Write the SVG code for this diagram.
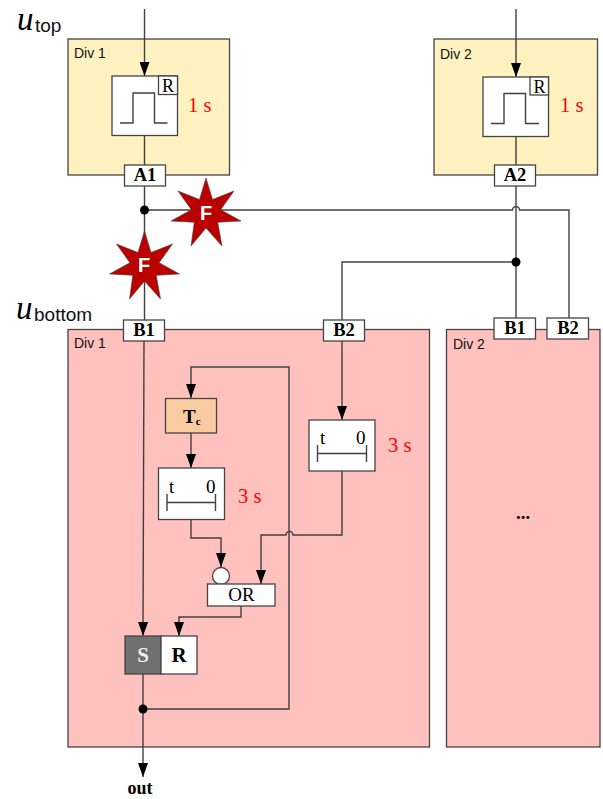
<svg xmlns="http://www.w3.org/2000/svg" width="603" height="799" viewBox="0 0 603 799">
<style>
.b{stroke:#444;stroke-width:1.3}
.y{fill:#fff2c0}.p{fill:#ffc1bd}.w{fill:#fff}
.c{fill:none;stroke:#404040;stroke-width:1.4}
.s{font-family:"Liberation Sans",Arial,sans-serif}
.t{font-family:"Liberation Serif","Times New Roman",serif;fill:#000}
.bd{font-weight:bold;font-size:18.500px;text-anchor:middle}
.r{fill:#f00;font-size:20.500px}
.d{font-size:14px;fill:#111}
.u{font-size:33px;font-style:italic}
.sub{font-size:19px;fill:#111}
.star{fill:#bb0000;stroke:#404040;stroke-width:.6}
.f{font-size:20px;font-weight:bold;fill:#fff;text-anchor:middle}
.m{font-size:19px}
</style>
<defs>
<marker id="a" markerUnits="userSpaceOnUse" markerWidth="14" markerHeight="10" refX="14" refY="5" orient="auto" viewBox="0 0 14 10"><path d="M0 0L14 5L0 10Z" fill="#000"/></marker>
<polygon id="st" points="0,-35 6.500,-13.500 28,-22 14.600,-3.300 35,8 11.700,9.300 16,33 0,15 -15,33 -11.700,9.300 -35,8 -14.600,-3.300 -28,-22 -6.500,-13.500" class="star"/>
</defs>
<rect id="bg" width="603" height="799" fill="#fff"/>
<g id="div1-top"><rect x="68" y="39" width="161.500" height="136" class="y b"/><text x="74" y="58" class="s d">Div 1</text></g>
<g id="div2-top"><rect x="434" y="39" width="163.500" height="136" class="y b"/><text x="440" y="59" class="s d">Div 2</text></g>
<g id="div1-bottom"><rect x="68" y="329.500" width="361.500" height="417.500" class="p b"/><text x="74" y="348" class="s d">Div 1</text></g>
<g id="div2-bottom"><rect x="446.500" y="329.500" width="153.500" height="417.500" class="p b"/><text x="453" y="349" class="s d">Div 2</text></g>
<g id="connectors">
<path d="M144.500 9V76" class="c" marker-end="url(#a)"/>
<path d="M516 9V77" class="c" marker-end="url(#a)"/>
<path d="M144.500 135V165M144.500 186V320" class="c"/>
<path d="M516 136V165M516 186V318" class="c"/>
<path d="M144.500 210H512.500A3.500 3.500 0 0 1 519.500 210H569V318" class="c"/>
<path d="M516 262H342V320" class="c"/>
<path d="M342 341V420" class="c" marker-end="url(#a)"/>
<path d="M144 341L143 636" class="c" marker-end="url(#a)"/>
<path d="M143 674V777" class="c" marker-end="url(#a)"/>
<path d="M143 709H289V367H191V398" class="c" marker-end="url(#a)"/>
<path d="M191 433V468" class="c" marker-end="url(#a)"/>
<path d="M191 519.500V538H221V567" class="c" marker-end="url(#a)"/>
<path d="M342 471V535H293A3.500 3.500 0 0 0 286 535H261V584" class="c" marker-end="url(#a)"/>
<path d="M241 606V617H179V636" class="c" marker-end="url(#a)"/>
<circle cx="144.500" cy="210" r="4.500" fill="#000"/>
<circle cx="516" cy="262" r="4.500" fill="#000"/>
<circle cx="143" cy="709" r="4.500" fill="#000"/>
</g>
<g id="pulse1"><rect x="112" y="76" width="65.500" height="59.500" class="w b"/><rect x="158.500" y="76" width="19" height="18.500" class="w b"/><text x="168" y="92" text-anchor="middle" class="t" font-size="18">R</text><path d="M120 123H133V93H154.500V123H167.500" class="c"/></g>
<g id="pulse2"><rect x="483" y="77" width="65.500" height="59.500" class="w b"/><rect x="530" y="77" width="18.500" height="18" class="w b"/><text x="539.500" y="93" text-anchor="middle" class="t" font-size="18">R</text><path d="M491 123.500H504V93.500H525.500V123.500H539" class="c"/></g>
<text x="188" y="112" class="t r">1 s</text>
<text x="560" y="112" class="t r">1 s</text>
<g id="A1"><rect x="124.500" y="165" width="41" height="21" class="w b"/><text x="145" y="181" class="t bd">A1</text></g>
<g id="A2"><rect x="494.500" y="165" width="41" height="21" class="w b"/><text x="515" y="181" class="t bd">A2</text></g>
<g id="B1a"><rect x="123.500" y="320" width="41" height="21" class="w b"/><text x="144" y="336" class="t bd">B1</text></g>
<g id="B2a"><rect x="323.500" y="320" width="41" height="21" class="w b"/><text x="344" y="336" class="t bd">B2</text></g>
<g id="B1b"><rect x="494" y="318" width="41.500" height="21" class="w b"/><text x="515" y="334" class="t bd">B1</text></g>
<g id="B2b"><rect x="547" y="318" width="41.500" height="21" class="w b"/><text x="568" y="334" class="t bd">B2</text></g>
<g id="fault1"><use href="#st" x="206" y="213"/><text x="206" y="220" class="s f">F</text></g>
<g id="fault2"><use href="#st" x="144.500" y="266"/><text x="144" y="272" class="s f">F</text></g>
<g id="tc"><rect x="165.500" y="398.500" width="51" height="34.500" fill="#f9cba0" class="b"/><text x="183" y="423" class="t" font-size="19" font-weight="bold">T<tspan font-size="11" dy="2">c</tspan></text></g>
<g id="timer1"><rect x="158.500" y="468" width="66" height="51.500" class="w b"/><text x="169" y="493" class="t m">t</text><text x="206" y="493" class="t m">0</text><path d="M167 494V511M167 502.500H215.500M215.500 494V511" class="c"/></g>
<text x="238" y="503" class="t r">3 s</text>
<g id="timer2"><rect x="309" y="420" width="66" height="51" class="w b"/><text x="320" y="444" class="t m">t</text><text x="356" y="444" class="t m">0</text><path d="M317.500 445V462M317.500 453.500H366.500M366.500 445V462" class="c"/></g>
<text x="388" y="452" class="t r">3 s</text>
<g id="or"><circle cx="221" cy="576" r="8.500" class="w b"/><rect x="207.500" y="584" width="67.500" height="22" class="w b"/><text x="241.500" y="601" text-anchor="middle" class="t m">OR</text></g>
<g id="sr"><rect x="125" y="636" width="36" height="38" fill="#707070" class="b"/><rect x="161" y="636" width="36" height="38" class="w b"/><text x="143" y="662" class="t bd" style="font-size:21px;fill:#eee">S</text><text x="179" y="662" class="t bd" style="font-size:21px">R</text></g>
<text x="140" y="794" class="t bd" style="font-size:18px">out</text>
<g id="u-top"><text x="17" y="29.500" class="t u">u</text><text x="35" y="32" class="s sub">top</text></g>
<g id="u-bottom"><text x="16" y="319" class="t u">u</text><text x="34" y="321" class="s sub">bottom</text></g>
<text x="523" y="519" text-anchor="middle" class="t" font-size="19" font-weight="bold">...</text>
</svg>
